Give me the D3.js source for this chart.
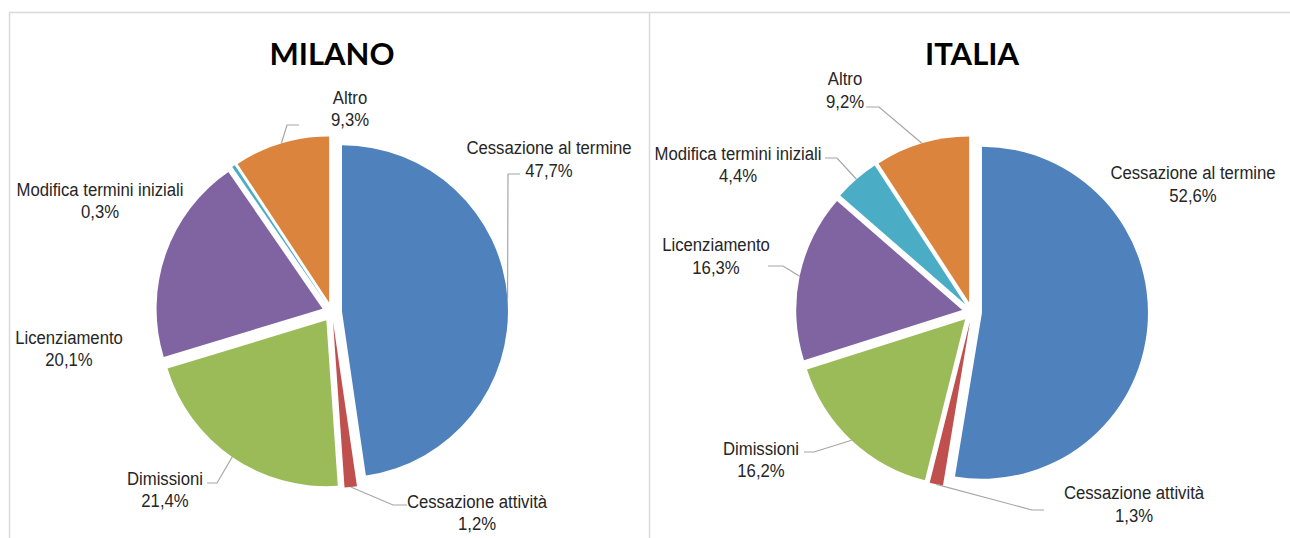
<!DOCTYPE html>
<html>
<head>
<meta charset="utf-8">
<script src="https://cdnjs.cloudflare.com/ajax/libs/d3/7.8.5/d3.min.js"></script>
<style>
  html, body { margin: 0; padding: 0; background: #fff; }
  svg { display: block; }
</style>
</head>
<body>
<svg id="chart" width="1290" height="538"></svg>
<script>
// ---- data ----
const categories = ["Cessazione al termine", "Cessazione attività", "Dimissioni", "Licenziamento", "Modifica termini iniziali", "Altro"];
const milanoValues = [47.7, 1.2, 21.4, 20.1, 0.3, 9.3];
const italiaValues = [52.6, 1.3, 16.2, 16.3, 4.4, 9.2];
const panelTitles = ["MILANO", "ITALIA"];
const sliceColors = ["#4f81bd", "#c0504d", "#9bbb59", "#8064a2", "#4bacc6", "#db843d"];

// ---- layout (label placement, in pixels) ----
// each: [labelX, line1Y, line2Y, leaderElbow or null, leaderEndX]
const milanoLabelLayout = [
  [549, 147, 170, [508, 174], 520],
  [477, 501, 523, [393, 505], 407],
  [165, 478, 500, [217, 483], 207],
  [69, 337, 359, null, null],
  [100, 189, 211, null, null],
  [350, 97, 119, [287, 125], 299]
];
const italiaLabelLayout = [
  [1193, 172, 195, null, null],
  [1134, 492, 515, [1032, 510], 1044],
  [761, 448, 470, [814, 452], 804],
  [716, 244, 267, [783, 266], 768],
  [738, 153, 175, [837, 158], 825],
  [845, 78, 101, [879, 107], 866]
];

const W = 1290, H = 538;
const svg = d3.select("#chart");
const itLocale = d3.formatLocale({decimal: ",", thousands: ".", grouping: [3], currency: ["€", ""]});
const fmt = v => itLocale.format(".1f")(v) + "%";

// frame
const frameColor = "#d9d9d9";
svg.append("line").attr("x1", 9).attr("x2", W).attr("y1", 12.5).attr("y2", 12.5)
  .attr("stroke", frameColor).attr("stroke-width", 1.5);
svg.append("line").attr("x1", 9.5).attr("x2", 9.5).attr("y1", 12).attr("y2", H)
  .attr("stroke", frameColor).attr("stroke-width", 1.5);
svg.append("line").attr("x1", 649.5).attr("x2", 649.5).attr("y1", 12).attr("y2", H)
  .attr("stroke", frameColor).attr("stroke-width", 1.5);

const R = 166, EXPLODE = 10, CY = 312;
const panels = [
  {title: panelTitles[0], values: milanoValues, layout: milanoLabelLayout, cx: 332, titleX: 332},
  {title: panelTitles[1], values: italiaValues, layout: italiaLabelLayout, cx: 972, titleX: 972}
];

const pie = d3.pie().sort(null).value(d => d);
const arc = d3.arc().innerRadius(0).outerRadius(R);
const labelFont = "'Liberation Sans', Arial, sans-serif";
const SX = 0.88; // horizontal condensing of label text

panels.forEach(p => {
  const g = svg.append("g");
  g.append("text")
    .attr("x", p.titleX).attr("y", 65)
    .attr("text-anchor", "middle")
    .style("font-family", "Lato, 'Open Sans', sans-serif")
    .style("font-weight", "bold")
    .style("font-size", "31px")
    .attr("fill", "#000")
    .text(p.title);

  const arcs = pie(p.values);
  const pieG = g.append("g").attr("transform", `translate(${p.cx},${CY})`);
  arcs.forEach((a, i) => {
    const mid = (a.startAngle + a.endAngle) / 2;
    const ox = EXPLODE * Math.sin(mid), oy = -EXPLODE * Math.cos(mid);
    pieG.append("path")
      .attr("d", arc(a))
      .attr("transform", `translate(${ox},${oy})`)
      .attr("fill", sliceColors[i]);

    const L = p.layout[i];
    if (L[3]) {
      const sx = p.cx + ox + R * Math.sin(mid);
      const sy = CY + oy - R * Math.cos(mid);
      g.append("path")
        .attr("d", `M${sx},${sy}L${L[3][0]},${L[3][1]}L${L[4]},${L[3][1]}`)
        .attr("fill", "none").attr("stroke", "#a6a6a6").attr("stroke-width", 1.2);
    }
    const lg = g.append("g").attr("transform", `translate(${L[0]},0) scale(${SX},1)`);
    const t = lg.append("text")
      .attr("text-anchor", "middle")
      .style("font-family", labelFont)
      .style("font-size", "19px")
      .attr("fill", "#262626");
    t.append("tspan").attr("x", 0).attr("y", L[1]).attr("dy", "0.36em").text(categories[i]);
    t.append("tspan").attr("x", 0).attr("y", L[2]).attr("dy", "0.36em").text(fmt(p.values[i]));
  });
});
</script>
</body>
</html>
